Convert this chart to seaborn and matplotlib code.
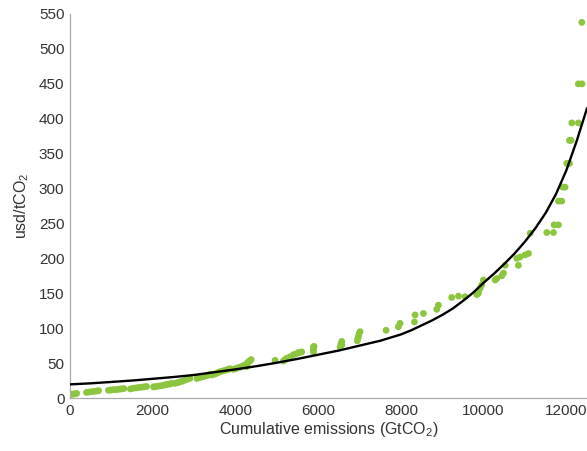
import matplotlib
matplotlib.use("Agg")
import matplotlib.pyplot as plt
import seaborn as sns
import pandas as pd

# Scatter data (cumulative emissions GtCO2, usd/tCO2)
emissions = [
    20, 70, 120, 160,
    400, 460, 520, 580, 650, 690,
    930, 990, 1050, 1120, 1180, 1240, 1300,
    1460, 1530, 1600, 1660, 1730, 1790, 1850,
    2020, 2080, 2130, 2190, 2250, 2300, 2350, 2410, 2460,
    2540, 2600, 2650, 2710, 2780, 2840, 2900,
    3070, 3120, 3180, 3240, 3300, 3350, 3390,
    3430, 3490, 3550, 3600, 3650, 3710, 3770, 3820, 3870,
    3950, 4000, 4050, 4100, 4150, 4200, 4250, 4273, 4300, 4312, 4350, 4380,
    4958, 5159, 5200, 5240, 5320, 5400, 5460, 5521, 5560, 5603,
    5885, 5885, 5885, 5900,
    6530, 6550, 6570, 6570, 6948, 6960, 6973, 6990, 7013,
    7642, 7940, 7980,
    8328, 8343, 8545, 8867, 8907, 9230, 9392, 9553,
    9835, 9875, 9875, 9915, 9955, 9995,
    10278, 10318, 10440, 10480, 10520, 10802, 10842, 10883, 11003, 11085,
    11125, 11528, 11690, 11705, 11810, 11810, 11890, 11914, 11970,
    12012, 12076, 12076, 12116, 12133, 12293, 12290, 12380, 12375,
]
price = [
    5, 5.5, 6, 6.5,
    8, 8.5, 9, 9.5, 10, 10.5,
    11, 11.5, 12, 12, 12.5, 13, 13.5,
    13, 14, 14.5, 15, 15.5, 16, 16.5,
    16, 16.5, 17, 17.5, 18, 19, 19.5, 20, 21,
    21, 22, 23, 24, 25.5, 27, 28,
    28, 29, 30, 31, 32, 33, 34,
    33, 34, 35.5, 37, 38, 39, 40, 41, 42,
    41, 42, 43, 44, 45, 46.5, 48, 45, 50, 52, 53, 55,
    54, 53, 55, 57, 59, 62, 63, 65, 65.5, 66,
    73, 66, 69, 74,
    73, 77, 81, 76, 82, 85, 88, 92, 95,
    97, 102, 107,
    109, 119, 121, 127, 133, 144, 146, 145,
    148, 152, 150, 157, 162, 169,
    169, 171, 175, 179, 190, 200, 190, 202, 205, 207,
    236, 237, 237, 248, 248, 282, 282, 302, 302,
    336, 336, 369, 369, 394, 394, 450, 450, 538,
]

# Fitted curve
fit_x = [0, 500, 1000, 1500, 2000, 2500, 3000, 3500, 4000, 4500, 5000, 5500,
         6000, 6500, 7000, 7500, 8000, 8250, 8500, 8750, 9000, 9250, 9500,
         9750, 10000, 10250, 10500, 10750, 11000, 11250, 11500, 11750,
         12000, 12250, 12500]
fit_y = [19.5, 21, 23, 25, 27.5, 30, 33, 37, 41, 45.5, 50.5, 56,
         62, 68, 75, 82, 91, 97, 104, 111, 119, 128, 139,
         151, 165, 178, 192, 207, 224, 243, 265, 292,
         326, 368, 415]

x_ticks = [0, 2000, 4000, 6000, 8000, 10000, 12000]
y_ticks = [0, 50, 100, 150, 200, 250, 300, 350, 400, 450, 500, 550]

sns.set_style("white")
plt.rcParams["font.family"] = ["Liberation Sans", "DejaVu Sans"]
plt.rcParams["mathtext.fontset"] = "custom"
plt.rcParams["mathtext.rm"] = "Liberation Sans"
plt.rcParams["mathtext.it"] = "Liberation Sans"

fig = plt.figure(figsize=(5.87, 4.51), dpi=100)
ax = fig.add_axes([70 / 587, 53 / 451, 517 / 587, 384 / 451])

pts = pd.DataFrame({"x": emissions, "y": price})
fit = pd.DataFrame({"x": fit_x, "y": fit_y})

sns.scatterplot(data=pts, x="x", y="y", ax=ax, color="#8cc63e", s=24,
                edgecolor="none", zorder=2)
sns.lineplot(data=fit, x="x", y="y", ax=ax, color="black", linewidth=1.7,
             zorder=3)

ax.set_xlim(0, 12500)
ax.set_ylim(0, 550)
ax.set_xticks(x_ticks)
ax.set_yticks(y_ticks)
ax.set_xticklabels([str(t) for t in x_ticks])
ax.set_yticklabels([str(t) for t in y_ticks])

for s in ["top", "right"]:
    ax.spines[s].set_visible(False)
for s in ["left", "bottom"]:
    ax.spines[s].set_color("#aaaaaa")
    ax.spines[s].set_linewidth(0.9)

ax.tick_params(axis="both", direction="in", length=3, width=0.8,
               color="#aaaaaa", labelsize=11, labelcolor="#333333", pad=4)
ax.set_xlabel(r"Cumulative emissions (GtCO$_2$)", fontsize=11.5,
              color="#333333", labelpad=2)
ax.set_ylabel(r"usd/tCO$_2$", fontsize=11.5, color="#333333", labelpad=6)

fig.savefig("out.png", dpi=100)
